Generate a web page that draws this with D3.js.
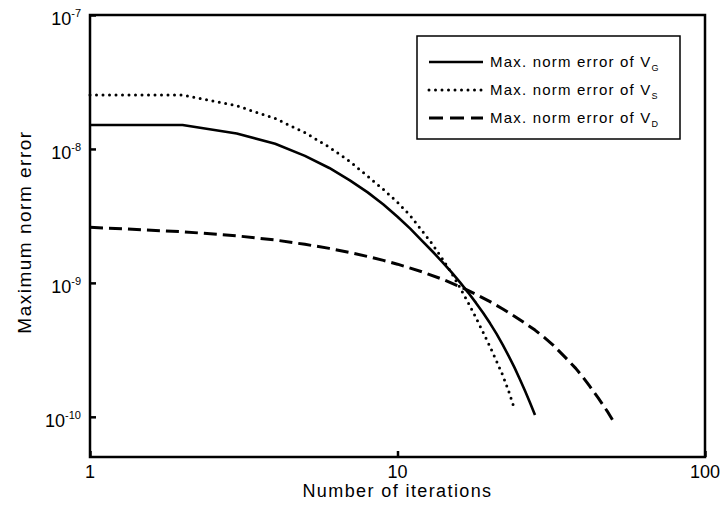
<!DOCTYPE html>
<html><head><meta charset="utf-8">
<script src="https://cdn.jsdelivr.net/npm/d3@7/dist/d3.min.js"></script>
<style>
body{margin:0;background:#fff}
text{font-family:"Liberation Sans",Arial,Helvetica,sans-serif;fill:#000}
</style>
</head><body>
<svg id="chart" width="721" height="514"></svg>
<script>
// ---- data ----
const iterG = [1,2,3,4,5,6,7,8,9,10,11,12,13,14,15,16,17,18,19,20,21,22,23,24,25,26,27,28];
const errG  = [1.51e-8,1.51e-8,1.305e-8,1.092e-8,8.88e-9,7.21e-9,5.83e-9,4.74e-9,3.85e-9,3.12e-9,2.54e-9,2.07e-9,1.715e-9,1.43e-9,1.198e-9,1.003e-9,8.43e-10,7.09e-10,5.95e-10,4.99e-10,4.16e-10,3.44e-10,2.84e-10,2.34e-10,1.91e-10,1.56e-10,1.27e-10,1.03e-10];

const iterS = [1,2,3,4,5,6,7,8,9,10,11,12,13,14,15,16,17,18,19,20,21,22,23,24];
const errS  = [2.53e-8,2.53e-8,2.10e-8,1.689e-8,1.325e-8,1.031e-8,8.05e-9,6.25e-9,4.98e-9,4.00e-9,3.18e-9,2.46e-9,1.94e-9,1.51e-9,1.18e-9,9.13e-10,7.08e-10,5.49e-10,4.26e-10,3.33e-10,2.60e-10,2.04e-10,1.55e-10,1.15e-10];

const iterD = [1,2,3,4,5,6,7,8,9,10,12,14,16,18,20,22,24,26,28,30,32,35,38,40,42,45,48,50];
const errD  = [2.60e-9,2.41e-9,2.245e-9,2.09e-9,1.94e-9,1.81e-9,1.686e-9,1.574e-9,1.472e-9,1.379e-9,1.212e-9,1.064e-9,9.35e-10,8.22e-10,7.24e-10,6.39e-10,5.64e-10,4.99e-10,4.44e-10,3.92e-10,3.45e-10,2.80e-10,2.30e-10,1.99e-10,1.715e-10,1.377e-10,1.109e-10,9.50e-11];

const yTickExponents = [-7,-8,-9,-10];
const xTickValues = [1,10,100];
const legendBase = "Max. norm error of V";
const legendSubs = ["G","S","D"];
const xTitle = "Number of iterations";
const yTitle = "Maximum norm error";

// ---- layout ----
const L = 90, R = 705, T = 15, B = 457;
const svg = d3.select("#chart");

const x = d3.scaleLog().domain([1,100]).range([L,R]);
const y = d3.scaleLog().domain([Math.pow(10,-10.3),1e-7]).range([B,T]);

// ticks (inward)
const yAxis = d3.axisLeft(y).tickValues(yTickExponents.map(e=>Math.pow(10,e))).tickSize(-6).tickFormat("");
const gy = svg.append("g").attr("transform",`translate(${L},0)`).call(yAxis);
gy.select(".domain").remove();
gy.selectAll(".tick line").attr("stroke","#000").attr("stroke-width",2.5);

const xAxis = d3.axisBottom(x).tickValues(xTickValues).tickSize(-6).tickFormat("");
const gx = svg.append("g").attr("transform",`translate(0,${B})`).call(xAxis);
gx.select(".domain").remove();
gx.selectAll(".tick line").attr("stroke","#000").attr("stroke-width",2.5);

// y tick labels 10^e
yTickExponents.forEach(e=>{
  const t = svg.append("text").attr("x",L-9).attr("y",y(Math.pow(10,e))+10)
    .attr("text-anchor","end");
  t.append("tspan").attr("font-size",18).text("10");
  t.append("tspan").attr("font-size",11).attr("dy",-8).text("-"+Math.abs(e));
});

// x tick labels
xTickValues.forEach(v=>{
  svg.append("text").attr("x",x(v)).attr("y",478).attr("text-anchor","middle")
    .attr("font-size",18).text(String(v));
});

// titles
svg.append("text").attr("x",(L+R)/2).attr("y",497).attr("text-anchor","middle")
  .attr("font-size",18).attr("letter-spacing",1.4).text(xTitle);
svg.append("text").attr("transform",`translate(31,${(T+B)/2 - 4}) rotate(-90)`)
  .attr("text-anchor","middle").attr("font-size",19).attr("letter-spacing",1.5).text(yTitle);

// lines
const line = d3.line().x(d=>x(d[0])).y(d=>y(d[1]));
const series = [
  {it:iterG, v:errG, dash:null, w:2.6, cap:"butt"},
  {it:iterS, v:errS, dash:"0,6.5", w:3, cap:"round"},
  {it:iterD, v:errD, dash:"13,6", w:3, cap:"butt"}
];
series.forEach(s=>{
  svg.append("path").datum(d3.zip(s.it,s.v)).attr("d",line)
    .attr("fill","none").attr("stroke","#000").attr("stroke-width",s.w)
    .attr("stroke-linecap",s.cap).attr("stroke-linejoin","round").attr("stroke-dasharray",s.dash);
});

// frame
svg.append("rect").attr("x",L).attr("y",T).attr("width",R-L).attr("height",B-T)
  .attr("fill","none").attr("stroke","#000").attr("stroke-width",2.5);

// legend
const lg = svg.append("g");
lg.append("rect").attr("x",417).attr("y",36).attr("width",263).attr("height",103)
  .attr("fill","#fff").attr("stroke","#000").attr("stroke-width",1.5);
const legDash = [null,"0,6.5","14,7"];
const legW = [2.6,3,3];
const legCap = ["butt","round","butt"];
legendSubs.forEach((s,i)=>{
  const yy = 62 + i*28;
  lg.append("line").attr("x1",429).attr("x2",483).attr("y1",yy).attr("y2",yy)
    .attr("stroke","#000").attr("stroke-width",legW[i]).attr("stroke-linecap",legCap[i])
    .attr("stroke-dasharray",legDash[i]);
  const t = lg.append("text").attr("x",490).attr("y",yy+5).attr("font-size",15).attr("letter-spacing",1.2);
  t.append("tspan").text(legendBase);
  t.append("tspan").attr("font-size",9).attr("dy",4).attr("letter-spacing",0).text(s);
});
</script>
</body></html>
